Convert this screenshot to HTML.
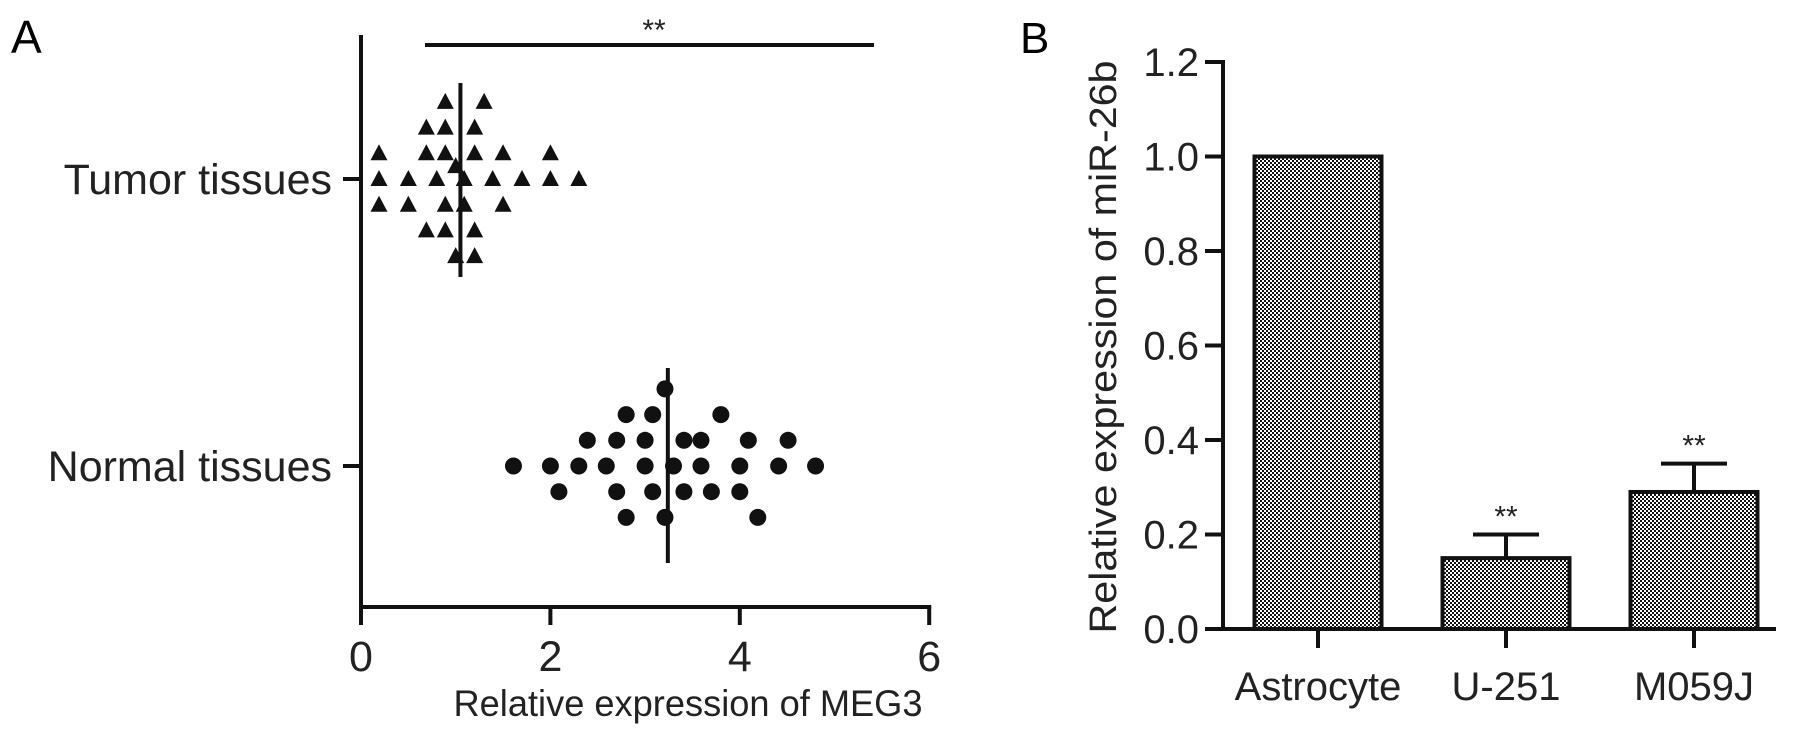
<!DOCTYPE html>
<html><head><meta charset="utf-8"><style>
html,body{margin:0;padding:0;background:#fff;}
svg{display:block;font-family:"Liberation Sans",Arial,sans-serif;}
</style></head><body>
<svg id="fig" width="1795" height="735" viewBox="0 0 1795 735" xmlns="http://www.w3.org/2000/svg">
<defs>
<pattern id="chk" width="4" height="4" patternUnits="userSpaceOnUse">
<rect width="4" height="4" fill="#fff"/><rect x="0" y="0" width="2" height="2" fill="#111"/><rect x="2" y="2" width="2" height="2" fill="#111"/>
</pattern>
</defs>
<g id="panelA"></g>
<g id="panelB"></g>
</svg>
<script>
// Panel A data
const tumorValues = [0.89,1.30, 0.69,0.89,1.20, 0.19,0.69,0.89,1.20,1.50,2.0, 1.0, 0.19,0.50,0.80,1.09,1.39,1.70,2.0,2.30, 0.19,0.50,0.89,1.09,1.50, 0.69,0.89,1.20, 1.0,1.20];
const tumorLanes  = [-3,-3, -2,-2,-2, -1,-1,-1,-1,-1,-1, -0.5, 0,0,0,0,0,0,0,0, 1,1,1,1,1, 2,2,2, 3,3];
const normalValues = [3.21, 2.80,3.08,3.80, 2.39,2.70,3.0,3.41,3.59,4.09,4.51, 1.61,2.0,2.30,2.59,3.0,3.30,3.59,4.0,4.41,4.80, 2.09,2.70,3.08,3.41,3.70,4.0, 2.80,3.21,4.19];
const normalLanes  = [-3, -2,-2,-2, -1,-1,-1,-1,-1,-1,-1, 0,0,0,0,0,0,0,0,0,0, 1,1,1,1,1,1, 2,2,2];
const tumorMedian = 1.05;
const normalMedian = 3.24;
const xTicksA = [0,2,4,6];
const groupsA = ["Tumor tissues","Normal tissues"];
// Panel B data
const categoriesB = ["Astrocyte","U-251","M059J"];
const valuesB = [1.0,0.15,0.29];
const errorsB = [0,0.05,0.06];
const sigB = ["","**","**"];
const yTicksB = [0,0.2,0.4,0.6,0.8,1.0,1.2];

const NS="http://www.w3.org/2000/svg";
function mk(parent,tag,attrs,text){const e=document.createElementNS(NS,tag);for(const k in attrs)e.setAttribute(k,attrs[k]);if(text!==undefined)e.textContent=text;parent.appendChild(e);return e;}

// ---------- Panel A ----------
const A=document.getElementById('panelA');
const ax0=361, axW=94.7, axBottom=607;
const xA=v=>ax0+v*axW;
const rowY=[179,466], lane=25.7;
let t;
t=mk(A,'text',{x:11,y:53,'font-size':46});t.textContent='A';


let l=mk(A,'line',{x1:ax0,y1:35,x2:ax0,y2:axBottom,stroke:'#111','stroke-width':4});


l=mk(A,'line',{x1:ax0-2,y1:axBottom,x2:xA(6)+2,y2:axBottom,stroke:'#111','stroke-width':4});


xTicksA.forEach(v=>{
  const tk=mk(A,'line',{x1:xA(v),y1:axBottom,x2:xA(v),y2:625,stroke:'#111','stroke-width':4});
  
  
  const tl=mk(A,'text',{x:xA(v),y:671,'font-size':43,'text-anchor':'middle',fill:'#222'},String(v));
  
  
});
t=mk(A,'text',{x:688,y:716,'font-size':37,'text-anchor':'middle',fill:'#222',textLength:469,lengthAdjust:'spacingAndGlyphs'},'Relative expression of MEG3');


groupsA.forEach((g,i)=>{
  const tk=mk(A,'line',{x1:343,y1:rowY[i],x2:ax0,y2:rowY[i],stroke:'#111','stroke-width':4});
  
  
  const tl=mk(A,'text',{x:332,y:rowY[i]+15,'font-size':43,'text-anchor':'end',fill:'#222'},g);
  
  
});
tumorValues.forEach((v,i)=>{
  const cx=xA(v), cy=rowY[0]+tumorLanes[i]*lane;
  const p=mk(A,'polygon',{points:`${cx},${cy-9} ${cx-8.5},${cy+7} ${cx+8.5},${cy+7}`,fill:'#111'});
  
  
});
normalValues.forEach((v,i)=>{
  const c=mk(A,'circle',{cx:xA(v),cy:rowY[1]+normalLanes[i]*lane,r:8.5,fill:'#111'});
  
  
});
l=mk(A,'line',{x1:xA(tumorMedian),y1:83,x2:xA(tumorMedian),y2:277,stroke:'#111','stroke-width':4});


l=mk(A,'line',{x1:xA(normalMedian),y1:368,x2:xA(normalMedian),y2:563,stroke:'#111','stroke-width':4});


l=mk(A,'line',{x1:425,y1:45,x2:874,y2:45,stroke:'#111','stroke-width':4});


t=mk(A,'text',{x:654,y:40,'font-size':30,'text-anchor':'middle',fill:'#222'},'**');



// ---------- Panel B ----------
const B=document.getElementById('panelB');
const by0=629, byH=472.5, bx=1223;
const yB=v=>by0-v*byH;
const centers=i=>1318+i*188;
const bw=127;
t=mk(B,'text',{x:1020,y:53,'font-size':44});t.textContent='B';


t=mk(B,'text',{x:0,y:0,'font-size':38,'text-anchor':'middle',fill:'#222',transform:'translate(1116,347) rotate(-90)',textLength:573,lengthAdjust:'spacingAndGlyphs'},'Relative expression of miR-26b');


yTicksB.forEach(v=>{
  const tk=mk(B,'line',{x1:1205,y1:yB(v),x2:bx,y2:yB(v),stroke:'#111','stroke-width':4});
  
  
  const tl=mk(B,'text',{x:1199,y:yB(v)+14,'font-size':40,'text-anchor':'end',fill:'#222'},v.toFixed(1));
  
  
});
categoriesB.forEach((c,i)=>{
  const cx=centers(i);
  const r=mk(B,'rect',{x:cx-bw/2,y:yB(valuesB[i]),width:bw,height:by0-yB(valuesB[i]),fill:'url(#chk)',stroke:'#111','stroke-width':4});
  
  
  if(errorsB[i]>0){
    const e=mk(B,'path',{d:`M${cx},${yB(valuesB[i])} V${yB(valuesB[i]+errorsB[i])} M${cx-33},${yB(valuesB[i]+errorsB[i])} H${cx+33}`,stroke:'#111','stroke-width':4,fill:'none'});
    
    
  }
  if(sigB[i]){
    const s=mk(B,'text',{x:cx,y:yB(valuesB[i]+errorsB[i])-8,'font-size':30,'text-anchor':'middle',fill:'#222'},sigB[i]);
    
    
  }
  const tk=mk(B,'line',{x1:cx,y1:by0,x2:cx,y2:648,stroke:'#111','stroke-width':4});
  
  
  const tl=mk(B,'text',{x:cx,y:700,'font-size':40,'text-anchor':'middle',fill:'#222'},c);
  
  
});
l=mk(B,'line',{x1:bx,y1:60,x2:bx,y2:by0+2,stroke:'#111','stroke-width':4});


l=mk(B,'line',{x1:1205,y1:by0,x2:1776,y2:by0,stroke:'#111','stroke-width':4});


</script>
</body></html>
